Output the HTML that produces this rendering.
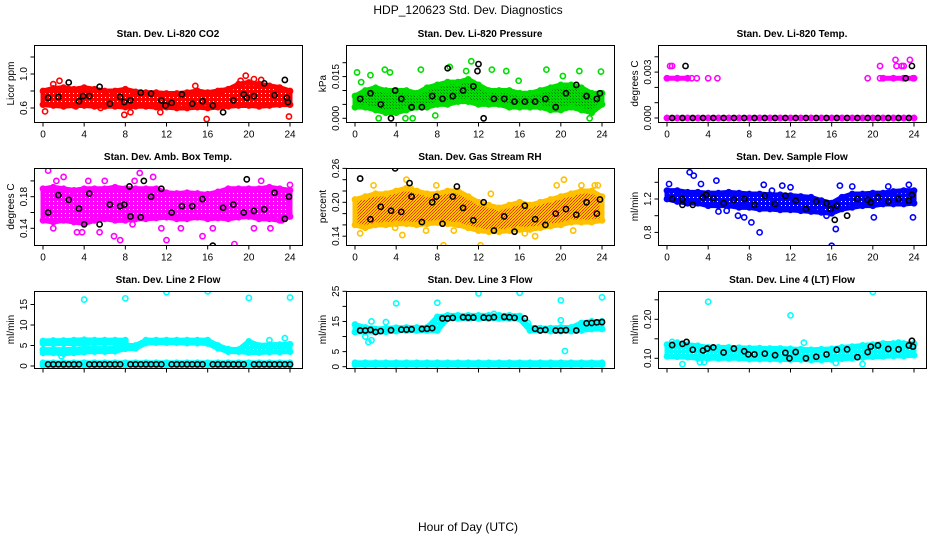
<!DOCTYPE html>
<html><head><meta charset="utf-8"><style>
body{margin:0;background:#fff}
svg{display:block;font-family:"Liberation Sans",sans-serif}
</style></head><body>
<svg id="c" width="936" height="540" viewBox="0 0 936 540" xmlns="http://www.w3.org/2000/svg">
<defs>
<pattern id="ry" width="3" height="3" patternUnits="userSpaceOnUse"><rect width="3" height="3" fill="#ffc800"/><rect width="1" height="1" fill="#ff2000"/><rect x="2" y="1" width="1" height="1" fill="#ff4000"/><rect x="1" y="2" width="1" height="1" fill="#ff3000"/></pattern>
<pattern id="pg" width="3" height="3" patternUnits="userSpaceOnUse"><rect width="3" height="3" fill="#00dd00"/><rect width="1" height="1" fill="#007a00"/><rect x="2" y="2" width="1" height="1" fill="#00a000"/></pattern>
<pattern id="sp-ff0000" width="4" height="4" patternUnits="userSpaceOnUse"><rect width="4" height="4" fill="#ff0000"/><rect x="1" y="1" width="1" height="1" fill="#fff"/></pattern>
<pattern id="sp-ff00ff" width="4" height="4" patternUnits="userSpaceOnUse"><rect width="4" height="4" fill="#ff00ff"/><rect x="1" y="1" width="1" height="1" fill="#fff"/></pattern>
<pattern id="sp-0000ff" width="4" height="4" patternUnits="userSpaceOnUse"><rect width="4" height="4" fill="#0000ff"/><rect x="1" y="1" width="1" height="1" fill="#fff"/></pattern>
<pattern id="sp-00ffff" width="4" height="4" patternUnits="userSpaceOnUse"><rect width="4" height="4" fill="#00ffff"/><rect x="1" y="1" width="1" height="1" fill="#fff"/></pattern>
</defs>
<text x="468" y="14" font-size="12" text-anchor="middle">HDP_120623  Std. Dev. Diagnostics</text>
<text x="468" y="531" font-size="12" text-anchor="middle">Hour of Day (UTC)</text>
</svg>
<script>
const hours = [0,1,2,3,4,5,6,7,8,9,10,11,12,13,14,15,16,17,18,19,20,21,22,23,24];
const blkHours = [0.5,1.5,2.5,3.5,4.5,5.5,6.5,7.5,8.5,9.5,10.5,11.5,12.5,13.5,14.5,15.5,16.5,17.5,18.5,19.5,20.5,21.5,22.5,23.5];
const xTicks = [0,4,8,12,16,20,24];

const co2Lo = [0.64,0.63,0.62,0.63,0.63,0.62,0.62,0.62,0.61,0.62,0.62,0.61,0.61,0.6,0.6,0.61,0.6,0.61,0.62,0.63,0.63,0.62,0.63,0.64,0.64];
const co2Hi = [0.80,0.83,0.84,0.82,0.84,0.82,0.80,0.80,0.82,0.79,0.78,0.78,0.77,0.77,0.78,0.80,0.78,0.80,0.82,0.88,0.90,0.88,0.86,0.84,0.80];
const co2Out = [[1.7,1.46],[0.2,0.56],[1.6,0.92],[1.0,0.88],[7.9,0.52],[8.5,0.55],[15.9,0.47],[19.7,0.98],[21.2,0.93],[23.9,0.5],[14.8,0.86],[3.2,0.62],[11.4,0.55],[5.6,0.6],[17.3,0.8],[19.2,0.92],[20.5,0.94]];
const co2Blk = [0.72,0.73,0.9,0.68,0.74,0.85,0.65,0.73,0.69,0.78,0.77,0.69,0.66,0.76,0.65,0.68,0.63,0.55,0.69,0.76,0.74,0.89,0.75,0.93];
const co2BlkX = [[3.9,0.74],[7.9,0.67],[11.9,0.63],[19.8,0.72],[23.8,0.67],[23.7,0.72]];

const prLo = [0.004,0.004,0.003,0.002,0.002,0.003,0.004,0.004,0.005,0.005,0.006,0.006,0.005,0.005,0.005,0.004,0.004,0.004,0.004,0.003,0.003,0.004,0.003,0.002,0.005];
const prHi = [0.008,0.010,0.011,0.010,0.010,0.010,0.009,0.011,0.012,0.013,0.013,0.014,0.012,0.010,0.010,0.010,0.009,0.009,0.010,0.011,0.012,0.012,0.011,0.009,0.009];
const prOut = [[0.2,0.0165],[0.6,0.013],[2.9,0.0175],[3.4,0.0165],[2.3,0],[4.9,0],[5.6,0],[7.8,0.001],[11.3,0.0205],[13.3,0.0175],[14.7,0.017],[15.9,0.0135],[18.6,0.0175],[21.8,0.017],[23.9,0.0168],[22.8,0],[10.8,0.017],[1.5,0.0155],[20.2,0.0152],[6.4,0.0175],[9.2,0.0185]];
const prBlk = [0.007,0.009,0.005,0.0,0.007,0.004,0.004,0.008,0.007,0.008,0.010,0.0115,0.0,0.007,0.007,0.006,0.006,0.006,0.007,0.004,0.009,0.012,0.008,0.007];
const prBlkX = [[9.0,0.018],[12.0,0.0195],[11.9,0.017],[3.9,0.01],[23.8,0.009]];

const tLo = [0,0,0,0,0,0,0,0,0,0,0,0,0,0,0,0,0,0,0,0,0,0,0,0,0];
const tHi = [0,0,0,0,0,0,0,0,0,0,0,0,0,0,0,0,0,0,0,0,0,0,0,0,0];
const tMidLo = [0.0026,0.0026,0.0026,null,null,null,null,null,null,null,null,null,null,null,null,null,null,null,null,null,null,0.0026,0.0026,0.0026,0.0026];
const tMidHi = [0.0026,0.0026,0.0026,null,null,null,null,null,null,null,null,null,null,null,null,null,null,null,null,null,null,0.0026,0.0026,0.0026,0.0026];
const tOut = [[0.5,0.0034],[0.3,0.0034],[2.9,0.0026],[4.0,0.0026],[4.9,0.0026],[19.5,0.0026],[20.7,0.0034],[20.7,0.0026],[22.2,0.0038],[23.6,0.0038],[22.3,0.0034],[22.8,0.0034],[23.0,0.0034],[23.9,0.0026],[2.4,0.0026]];
const tBlk = [0,0,0,0,0,0,0,0,0,0,0,0,0,0,0,0,0,0,0,0,0,0,0,0];
const tBlkX = [[1.8,0.0034],[23.2,0.0026],[23.8,0.0034]];

const abLo = [0.15,0.148,0.15,0.148,0.146,0.15,0.152,0.15,0.15,0.152,0.152,0.153,0.154,0.152,0.152,0.154,0.152,0.153,0.152,0.154,0.155,0.152,0.152,0.15,0.155];
const abHi = [0.19,0.192,0.19,0.188,0.19,0.19,0.19,0.192,0.19,0.19,0.19,0.19,0.185,0.184,0.185,0.184,0.183,0.186,0.19,0.19,0.19,0.19,0.192,0.19,0.188];
const abOut = [[0.5,0.213],[1.3,0.2],[2.0,0.205],[1.0,0.14],[3.3,0.135],[3.8,0.135],[5.5,0.135],[6.9,0.13],[7.5,0.125],[9.4,0.21],[11.5,0.14],[12.0,0.125],[13.4,0.14],[10.7,0.205],[16.5,0.14],[18.6,0.12],[20.5,0.14],[21.2,0.20],[22.1,0.14],[23.2,0.15],[15.5,0.13],[8.7,0.145],[4.4,0.2],[6.0,0.2],[24,0.195],[8.9,0.2]];
const abBlk = [0.16,0.182,0.176,0.165,0.184,0.145,0.17,0.168,0.155,0.154,0.18,0.19,0.16,0.168,0.168,0.177,0.118,0.166,0.17,0.16,0.162,0.164,0.185,0.152];
const abBlkX = [[8.4,0.193],[9.8,0.2],[23.9,0.18],[19.8,0.202],[4.0,0.145],[7.9,0.17]];

const rhLo = [0.16,0.155,0.16,0.16,0.162,0.162,0.16,0.162,0.164,0.162,0.16,0.155,0.15,0.148,0.148,0.15,0.152,0.152,0.155,0.158,0.16,0.165,0.165,0.165,0.168];
const rhHi = [0.205,0.21,0.215,0.215,0.22,0.225,0.22,0.215,0.215,0.22,0.22,0.21,0.2,0.195,0.19,0.195,0.2,0.195,0.2,0.205,0.21,0.215,0.22,0.22,0.21];
const rhOut = [[0.5,0.145],[1.8,0.23],[3.9,0.155],[5.0,0.24],[4.6,0.142],[6.9,0.15],[7.9,0.23],[8.6,0.124],[9.6,0.15],[12.2,0.124],[13.2,0.215],[16.5,0.145],[17.5,0.14],[19.6,0.23],[20.3,0.24],[22.0,0.23],[23.3,0.23],[23.6,0.23],[21.2,0.15],[5.4,0.225]];
const rhBlk = [0.242,0.17,0.192,0.185,0.183,0.21,0.165,0.2,0.162,0.21,0.19,0.168,0.2,0.15,0.175,0.148,0.194,0.17,0.16,0.18,0.188,0.178,0.2,0.18];
const rhBlkX = [[3.9,0.26],[5.3,0.234],[9.9,0.228],[23.8,0.205],[7.9,0.21]];

const sfLo = [1.2,1.17,1.15,1.15,1.12,1.12,1.12,1.1,1.1,1.08,1.08,1.07,1.07,1.06,1.05,1.04,1.03,1.08,1.1,1.12,1.12,1.14,1.14,1.14,1.15];
const sfHi = [1.3,1.3,1.28,1.28,1.27,1.27,1.28,1.27,1.26,1.26,1.25,1.25,1.24,1.23,1.22,1.18,1.15,1.22,1.26,1.26,1.27,1.27,1.29,1.3,1.3];
const sfOut = [[0.2,1.38],[2.2,1.52],[2.6,1.48],[3.3,1.38],[4.8,1.42],[5.0,1.05],[5.8,1.06],[6.9,1.0],[7.5,0.98],[8.2,0.92],[10.2,1.3],[11.2,1.36],[12.0,1.34],[9.4,1.37],[9.0,0.8],[16.0,0.64],[16.4,0.84],[16.8,1.36],[18.0,1.35],[20.1,0.98],[23.9,0.98],[21.5,1.35],[23.5,1.37],[15.5,1.0]];
const sfBlk = [1.2,1.2,1.13,1.22,1.21,1.15,1.19,1.2,1.13,1.24,1.14,1.24,1.18,1.08,1.17,1.15,1.12,1.0,1.2,1.19,1.22,1.17,1.2,1.18];
const sfBlkX = [[1.5,1.13],[3.8,1.25],[15.9,1.08],[19.8,1.16],[23.8,1.25],[16.3,0.95]];

const l2Lo = [3.2,3.2,3.0,3.2,3.4,3.5,3.5,3.6,4.2,4.3,5.6,5.7,5.7,5.7,5.6,5.6,5.5,4.3,3.5,3.5,3.3,3.3,3.4,3.4,3.5];
const l2Hi = [4.0,4.0,4.0,4.1,4.3,4.3,4.2,4.3,5.0,5.0,6.3,6.3,6.3,6.3,6.3,6.3,6.3,5.0,4.1,4.0,6.0,5.0,5.2,5.2,5.3];
const l2UpLo = [5.5,5.4,5.5,5.5,5.5,5.6,5.6,5.6,5.6,null,null,null,null,null,null,null,null,null,null,null,null,null,null,null,null];
const l2UpHi = [6.1,6.2,6.2,6.3,6.4,6.3,6.3,6.3,6.3,null,null,null,null,null,null,null,null,null,null,null,null,null,null,null,null];
const l2BaseLo = [0.2,0.2,0.2,0.2,0.2,0.2,0.2,0.2,0.2,0.2,0.2,0.2,0.2,0.2,0.2,0.2,0.2,0.2,0.2,0.2,0.2,0.2,0.2,0.2,0.2];
const l2BaseHi = [0.8,0.8,0.8,0.8,0.8,0.8,0.8,0.8,0.8,0.8,0.8,0.8,0.8,0.8,0.8,0.8,0.8,0.8,0.8,0.8,0.8,0.8,0.8,0.8,0.8];
const l2Out = [[4,16.2],[8,16.5],[12,18],[16,18.2],[20,16.6],[24,16.7],[0,5.9],[23.5,6.8],[22,6.3],[1.8,2.4],[0,3.8]];
const l2Blk = [0.4,0.4,0.4,0.4,0.4,0.4,0.4,0.4,0.4,0.4,0.4,0.4,0.4,0.4,0.4,0.4,0.4,0.4,0.4,0.4,0.4,0.4,0.4,0.4];
const l2BlkX = [[1,0.4],[2,0.4],[3,0.4],[5,0.4],[6,0.4],[7,0.4],[9,0.4],[10,0.4],[11,0.4],[13,0.4],[14,0.4],[15,0.4],[17,0.4],[18,0.4],[19,0.4],[21,0.4],[22,0.4],[23,0.4],[24,0.4]];

const l3Lo = [11.5,11.5,11.5,11.6,11.8,12.0,12.0,12.0,12.0,15.9,16.0,16.0,16.0,16.0,16.0,16.0,15.8,12.0,12.0,11.8,11.8,11.8,12.0,12.5,12.5];
const l3Hi = [14.0,13.0,12.5,12.7,12.9,13.0,13.0,13.0,16.5,17.0,17.0,17.0,17.0,17.0,17.0,17.0,16.8,13.0,12.8,12.8,13.0,13.0,14.5,15.0,15.0];
const l3BaseLo = [0.7,0.7,0.7,0.7,0.7,0.7,0.7,0.7,0.7,0.7,0.7,0.7,0.7,0.7,0.7,0.7,0.7,0.7,0.7,0.7,0.7,0.7,0.7,0.7,0.7];
const l3BaseHi = [1.3,1.3,1.3,1.3,1.3,1.3,1.3,1.3,1.3,1.3,1.3,1.3,1.3,1.3,1.3,1.3,1.3,1.3,1.3,1.3,1.3,1.3,1.3,1.3,1.3];
const l3Out = [[4,21],[8,21.2],[12,24.3],[16,24.5],[20,22],[24,23],[0,11.5],[1.0,10],[1.3,8.2],[1.6,8.8],[1.6,15],[3.0,14.8],[20.4,5.2],[20.0,15.4],[16.8,14.5],[13.5,17.5]];
const l3Blk = [12,12.2,11.8,12.1,12.3,12.4,12.5,12.8,16,16.2,16.4,16.3,16.3,16.4,16.5,16.2,16,12.6,12.2,12,12.1,12,14.4,14.7];
const l3BlkX = [[1,12],[2,11.5],[5,12.3],[7,12.6],[9,16],[11,16.3],[13,16.2],[15,16.4],[18,12],[20,12],[23,14.5],[24,14.8]];

const l4Lo = [0.105,0.104,0.103,0.1,0.1,0.1,0.1,0.1,0.098,0.098,0.098,0.097,0.097,0.097,0.096,0.096,0.097,0.099,0.1,0.102,0.104,0.105,0.106,0.106,0.108];
const l4Hi = [0.135,0.14,0.135,0.132,0.128,0.128,0.128,0.127,0.126,0.126,0.125,0.125,0.124,0.123,0.122,0.123,0.124,0.128,0.13,0.133,0.135,0.138,0.138,0.138,0.138];
const l4Out = [[4,0.245],[12,0.21],[20,0.27],[1.5,0.085],[3.2,0.09],[3.6,0.09],[16.4,0.088],[19,0.085],[22.5,0.14],[0.5,0.142],[13.3,0.14]];
const l4Blk = [0.134,0.137,0.122,0.12,0.128,0.115,0.125,0.118,0.11,0.112,0.108,0.114,0.116,0.1,0.104,0.11,0.122,0.123,0.103,0.116,0.133,0.124,0.123,0.133];
const l4BlkX = [[1.9,0.142],[3.9,0.125],[7.9,0.11],[11.9,0.1],[19.8,0.13],[23.8,0.145],[23.9,0.13]];

const NS = "http://www.w3.org/2000/svg";
const svg = document.getElementById('c');
function mk(tag, attrs, parent){const e=document.createElementNS(NS,tag);for(const k in attrs)e.setAttribute(k,attrs[k]);(parent||svg).appendChild(e);return e;}

const colLeft = [34,346,658], rowTop = [45,168,291], boxW = 268, boxH = 77;
const panels = [
 {id:'co2',title:'Stan. Dev. Li-820 CO2',ylab:'Licor ppm',c:0,r:0,col:'#ff0000',fill:'url(#sp-ff0000)',v0:0.6,p0:108,ppu:85,ticks:[0.6,0.8,1.0,1.2],labs:['0.6','','1.0',''],bands:[[co2Lo,co2Hi]],out:co2Out,blk:co2Blk,blkX:co2BlkX},
 {id:'pressure',title:'Stan. Dev. Li-820 Pressure',ylab:'kPa',c:1,r:0,col:'#00dd00',fill:'url(#pg)',v0:0,p0:118.3,ppu:2780,ticks:[0,0.005,0.01,0.015,0.02],labs:['0.000','','','0.015',''],bands:[[prLo,prHi]],out:prOut,blk:prBlk,blkX:prBlkX},
 {id:'temp',title:'Stan. Dev. Li-820 Temp.',ylab:'degrees C',c:2,r:0,col:'#ff00ff',v0:0,p0:118,ppu:15300,ticks:[0,0.001,0.002,0.003,0.004],labs:['0.000','','','0.003',''],bands:[[tLo,tHi],[tMidLo,tMidHi]],out:tOut,blk:tBlk,blkX:tBlkX},
 {id:'ambbox',title:'Stan. Dev. Amb. Box Temp.',ylab:'degrees C',c:0,r:1,col:'#ff00ff',fill:'url(#sp-ff00ff)',v0:0.18,p0:196.7,ppu:790,ticks:[0.14,0.16,0.18,0.20],labs:['0.14','','0.18',''],bands:[[abLo,abHi]],out:abOut,blk:abBlk,blkX:abBlkX},
 {id:'rh',title:'Stan. Dev. Gas Stream RH',ylab:'percent',c:1,r:1,col:'#ffc000',fill:'url(#ry)',v0:0.2,p0:202.3,ppu:565,ticks:[0.14,0.16,0.18,0.20,0.22,0.24,0.26],labs:['0.14','','','0.20','','','0.26'],bands:[[rhLo,rhHi]],out:rhOut,blk:rhBlk,blkX:rhBlkX},
 {id:'sampleflow',title:'Stan. Dev. Sample Flow',ylab:'ml/min',c:2,r:1,col:'#0000ff',fill:'url(#sp-0000ff)',v0:1.2,p0:199,ppu:83.5,ticks:[0.8,1.0,1.2,1.4],labs:['0.8','','1.2',''],bands:[[sfLo,sfHi]],out:sfOut,blk:sfBlk,blkX:sfBlkX},
 {id:'line2',title:'Stan. Dev. Line 2 Flow',ylab:'ml/min',c:0,r:2,col:'#00ffff',fill:'url(#sp-00ffff)',v0:0,p0:366,ppu:4.1,ticks:[0,5,10,15],labs:['0','5','10','15'],bands:[[l2Lo,l2Hi],[l2UpLo,l2UpHi],[l2BaseLo,l2BaseHi]],out:l2Out,blk:l2Blk,blkX:l2BlkX,noX:true},
 {id:'line3',title:'Stan. Dev. Line 3 Flow',ylab:'ml/min',c:1,r:2,col:'#00ffff',fill:'url(#sp-00ffff)',v0:0,p0:366.7,ppu:3.016,ticks:[0,5,10,15,20,25],labs:['0','5','','15','','25'],bands:[[l3Lo,l3Hi],[l3BaseLo,l3BaseHi]],out:l3Out,blk:l3Blk,blkX:l3BlkX,noX:true},
 {id:'line4',title:'Stan. Dev. Line 4 (LT) Flow',ylab:'ml/min',c:2,r:2,col:'#00ffff',fill:'url(#sp-00ffff)',v0:0.1,p0:358.3,ppu:390,ticks:[0.10,0.15,0.20,0.25],labs:['0.10','','0.20',''],bands:[[l4Lo,l4Hi]],out:l4Out,blk:l4Blk,blkX:l4BlkX,noX:true}
];

panels.forEach(p=>{
 const L = colLeft[p.c], T = rowTop[p.r];
 const X = h => L + 9 + h*247/24;
 const Y = v => p.p0 - (v - p.v0)*p.ppu;
 const g = mk('g',{});
 
 
 const clipId = 'clip-' + p.id;
 const cp = mk('clipPath',{id:clipId},g); mk('rect',{x:L,y:T,width:boxW,height:boxH},cp);
 const plot = mk('g',{'clip-path':'url(#'+clipId+')'},g);
 p.bands.forEach(([lo,hi])=>{
  let run=[];
  const flush=()=>{ if(run.length>1){
    const pts = run.map(i=>X(hours[i])+','+Y(hi[i])).concat(run.slice().reverse().map(i=>X(hours[i])+','+Y(lo[i])));
    const poly = mk('polygon',{points:pts.join(' '),fill:p.fill||p.col,stroke:p.col,'stroke-width':5,'stroke-linejoin':'round'},plot);
    
    
    run.forEach(i=>{[lo[i],hi[i]].forEach(v=>{
      const c = mk('circle',{cx:X(hours[i]),cy:Y(v),r:2.6,fill:'none',stroke:p.col,'stroke-width':1.6},plot);
      
      
    });});
  } run=[]; };
  hours.forEach((h,i)=>{ if(lo[i]===null||hi[i]===null) flush(); else run.push(i); });
  flush();
 });
 p.out.forEach(([h,v])=>{
  const c = mk('circle',{cx:X(h),cy:Y(v),r:2.6,fill:'none',stroke:p.col,'stroke-width':1.6},plot);
  
  
 });
 const blkPts = blkHours.map((h,i)=>[h,p.blk[i]]).concat(p.blkX);
 blkPts.forEach(([h,v])=>{
  const c = mk('circle',{cx:X(h),cy:Y(v),r:2.6,fill:'none',stroke:'#000','stroke-width':1.6},plot);
  
  
 });
 const box = mk('rect',{x:L+0.5,y:T+0.5,width:boxW,height:boxH,fill:'none',stroke:'#000','stroke-width':1},g);
 
 
 const t = mk('text',{x:L+boxW/2,y:T-8,'font-size':10,'font-weight':'bold','text-anchor':'middle'},g);
 t.textContent = p.title;
 
 
 const xb = T+boxH+0.5;
 mk('line',{x1:X(0),x2:X(24),y1:xb,y2:xb,stroke:'#000'},g);
 xTicks.forEach(tk=>{
  mk('line',{x1:X(tk),x2:X(tk),y1:xb,y2:xb+4,stroke:'#000'},g);
  if(!p.noX){
   const lt = mk('text',{x:X(tk),y:xb+15,'font-size':10,'text-anchor':'middle'},g);
   lt.textContent = tk;
   
   
  }
 });
 const yl = L+0.5;
 mk('line',{x1:yl,x2:yl,y1:Y(p.ticks[0]),y2:Y(p.ticks[p.ticks.length-1]),stroke:'#000'},g);
 p.ticks.forEach((tk,i)=>{
  mk('line',{x1:yl-4,x2:yl,y1:Y(tk),y2:Y(tk),stroke:'#000'},g);
  if(p.labs[i]){
   const ty = mk('text',{x:0,y:0,'font-size':10,'text-anchor':'middle',transform:'translate('+(L-7)+','+Y(tk)+') rotate(-90)'},g);
   ty.textContent = p.labs[i];
   
   
  }
 });
 const yt = mk('text',{x:0,y:0,'font-size':10,'text-anchor':'middle',transform:'translate('+(L-20)+','+(T+boxH/2)+') rotate(-90)'},g);
 yt.textContent = p.ylab;
 
 
});
</script>
</body></html>
